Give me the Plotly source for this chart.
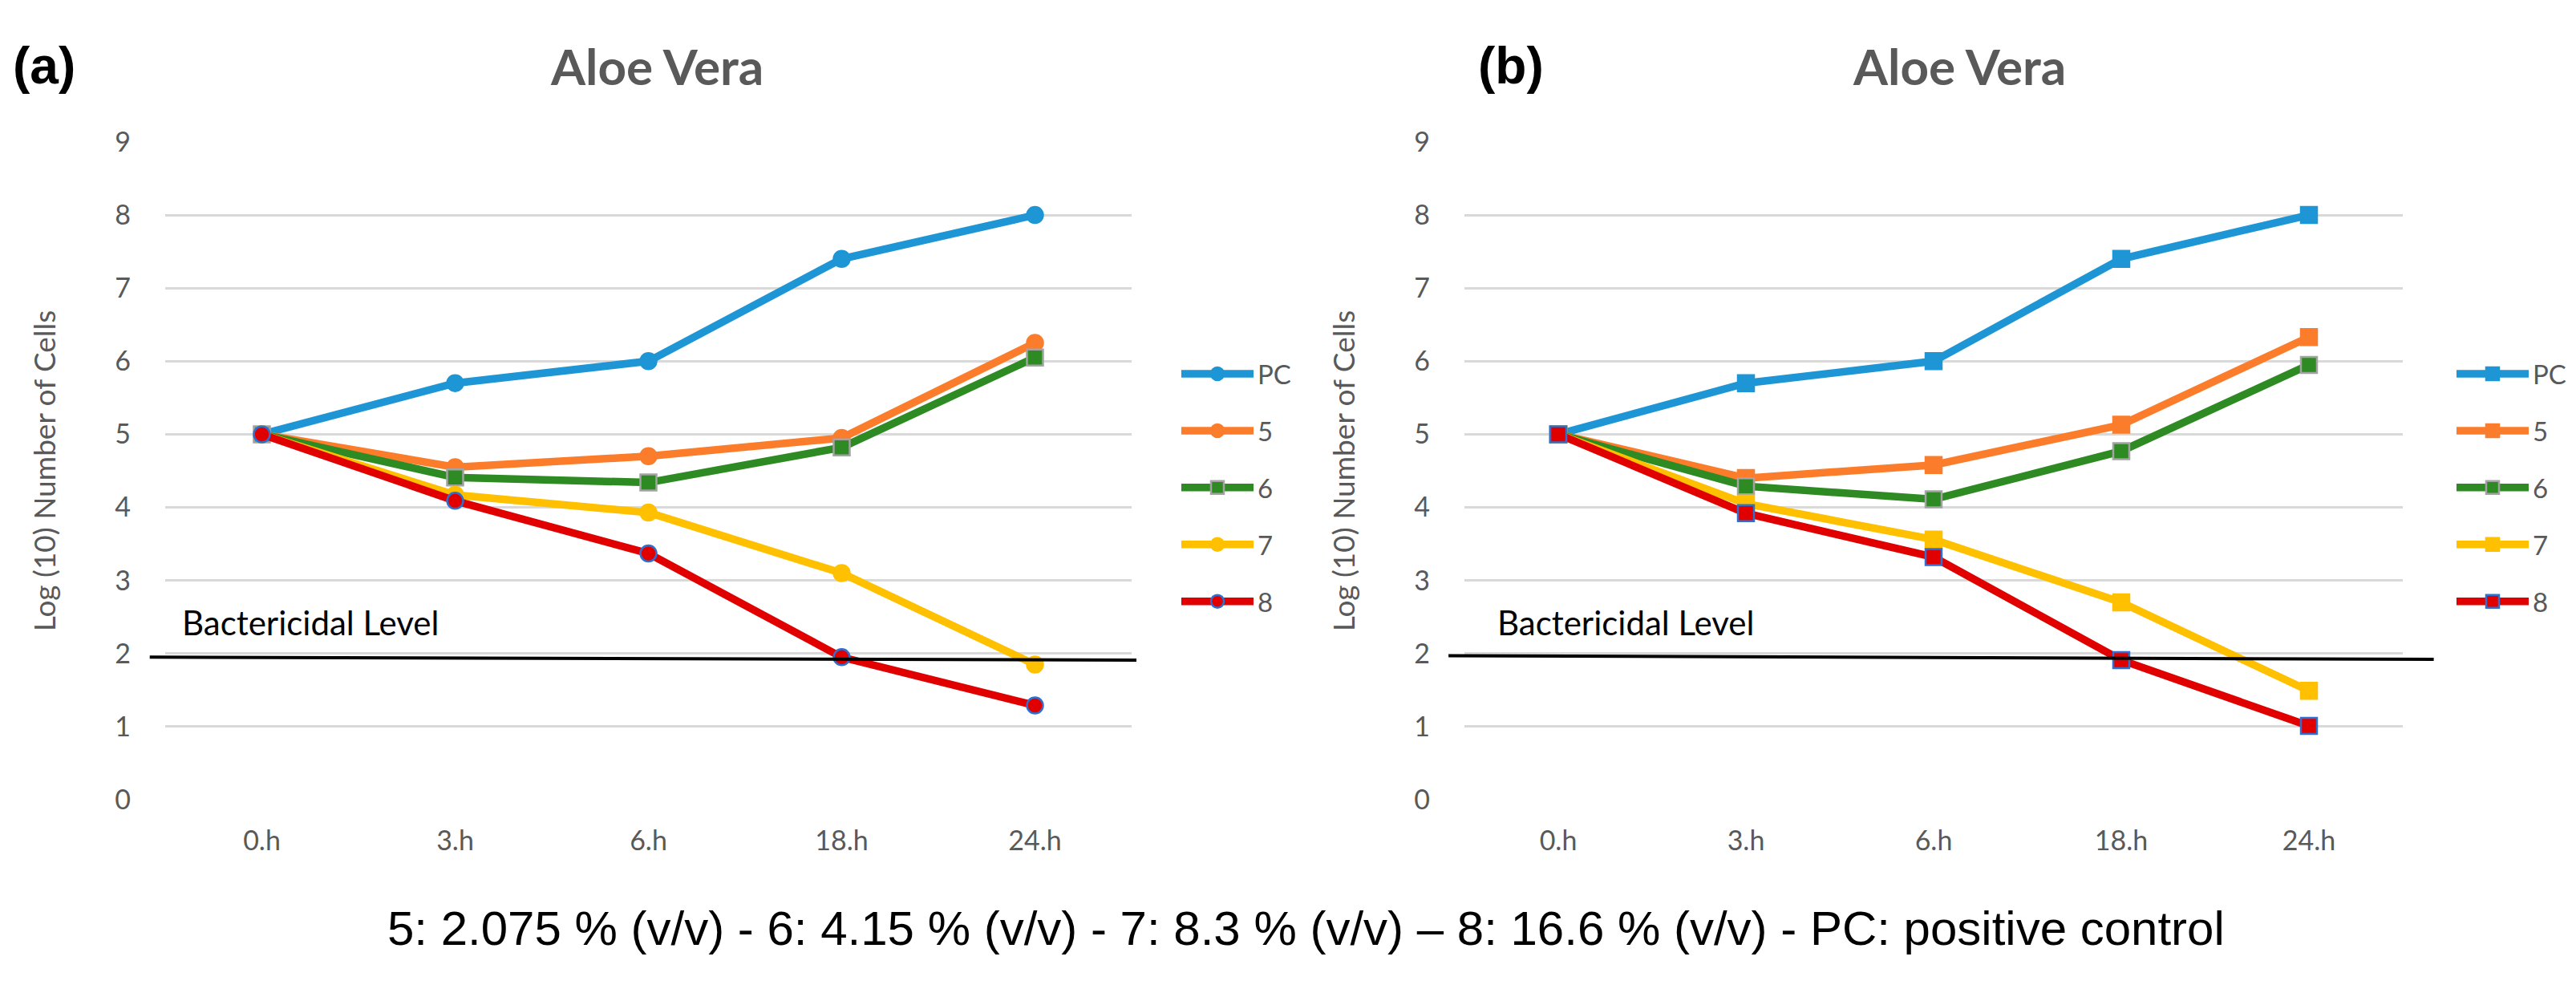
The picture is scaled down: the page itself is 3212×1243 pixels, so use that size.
import plotly.graph_objects as go

# time points and series (log10 number of cells)
times = ['0.h', '3.h', '6.h', '18.h', '24.h']
series_names = ['PC', '5', '6', '7', '8']

a_pc = [5.0, 5.7, 6.0, 7.4, 8.0]
a_5 = [5.0, 4.55, 4.7, 4.95, 6.25]
a_6 = [5.0, 4.41, 4.34, 4.82, 6.05]
a_7 = [5.0, 4.17, 3.93, 3.1, 1.85]
a_8 = [5.0, 4.09, 3.37, 1.95, 1.29]

b_pc = [5.0, 5.7, 6.0, 7.4, 8.0]
b_5 = [5.0, 4.4, 4.58, 5.13, 6.33]
b_6 = [5.0, 4.29, 4.11, 4.77, 5.95]
b_7 = [5.0, 4.05, 3.56, 2.7, 1.49]
b_8 = [5.0, 3.92, 3.32, 1.91, 1.01]

# bactericidal level line (left end, right end)
bact_a = [1.95, 1.91]
bact_b = [1.97, 1.92]

W, H = 3212, 1243

colors = ['#1E96D6', '#FB7D2C', '#2E8A22', '#FFC000', '#E00000']
edge_colors = ['#1E96D6', '#FB7D2C', '#A3A3A3', '#FFC000', '#2F6FD0']
symbols_a = ['circle', 'circle', 'square', 'circle', 'circle']
symbols_b = ['square'] * 5

grey_txt = '#595959'
font_fam = 'Lato, Open Sans, sans-serif'
tick_font = dict(family=font_fam, size=34, color=grey_txt)


def px(x):
    return x / W


def py(y):
    return 1 - y / H


fig = go.Figure()

panels = [
    ('x', 'y', 'legend', [a_pc, a_5, a_6, a_7, a_8], symbols_a),
    ('x2', 'y2', 'legend2', [b_pc, b_5, b_6, b_7, b_8], symbols_b),
]
for xa, ya, leg, vals, syms in panels:
    for i, name in enumerate(series_names):
        fig.add_trace(go.Scatter(
            x=times, y=vals[i], name=name, mode='lines+markers',
            xaxis=xa, yaxis=ya, legend=leg, legendgroup=leg + name,
            line=dict(color=colors[i], width=9.5),
            marker=dict(symbol=syms[i], size=20, color=colors[i],
                        line=dict(color=edge_colors[i], width=2.5)),
        ))

axis_common = dict(
    showline=False, zeroline=False, ticks='', showgrid=False,
    tickfont=tick_font,
)
y_common = dict(
    range=[0, 9], dtick=1, showgrid=True, gridcolor='#D9D9D9', gridwidth=3,
    zeroline=False, showline=False, ticks='', tickfont=tick_font,
    ticklabelstandoff=42,
    title=dict(text='Log (10) Number of Cells',
               font=dict(family=font_fam, size=37, color=grey_txt),
               standoff=62),
)

legend_common = dict(
    xanchor='left', yanchor='top',
    font=dict(family=font_fam, size=33, color=grey_txt),
    itemwidth=90, tracegroupgap=25, bgcolor='rgba(0,0,0,0)',
)

fig.update_layout(
    width=W, height=H,
    margin=dict(l=0, r=0, t=0, b=0),
    plot_bgcolor='white', paper_bgcolor='white',
    xaxis=dict(domain=[px(198), px(1403)], range=[-0.5, 4.5], anchor='y',
               ticklabelstandoff=28, **axis_common),
    yaxis=dict(domain=[py(1000), py(152)], anchor='x', **y_common),
    xaxis2=dict(domain=[px(1818), px(2988)], range=[-0.5, 4.5], anchor='y2',
                ticklabelstandoff=28, **axis_common),
    yaxis2=dict(domain=[py(1000), py(152)], anchor='x2', **y_common),
    legend=dict(x=px(1460), y=py(422), **legend_common),
    legend2=dict(x=px(3050), y=py(422), **legend_common),
)

# bactericidal level lines
for xref, yref, lv, x0, x1 in [('x domain', 'y', bact_a, -0.016, 1.005),
                               ('x2 domain', 'y2', bact_b, -0.017, 1.033)]:
    fig.add_shape(type='line', xref=xref, yref=yref, x0=x0, x1=x1,
                  y0=lv[0], y1=lv[1], line=dict(color='black', width=4),
                  layer='above')

annots = [
    dict(text='<b>(a)</b>', x=px(6), y=py(54), xanchor='left',
         font=dict(family='Liberation Sans, Arial', size=64, color='black')),
    dict(text='<b>(b)</b>', x=px(1833), y=py(54), xanchor='left',
         font=dict(family='Liberation Sans, Arial', size=64, color='black')),
    dict(text='<b>Aloe Vera</b>', x=px(811), y=py(54), xanchor='center',
         font=dict(family=font_fam, size=62, color=grey_txt)),
    dict(text='<b>Aloe Vera</b>', x=px(2435), y=py(54), xanchor='center',
         font=dict(family=font_fam, size=62, color=grey_txt)),
    dict(text='Bactericidal Level', x=px(217), y=py(771), xanchor='left',
         font=dict(family=font_fam, size=42, color='black')),
    dict(text='Bactericidal Level', x=px(1857), y=py(771), xanchor='left',
         font=dict(family=font_fam, size=42, color='black')),
    dict(text='5: 2.075 % (v/v) - 6: 4.15 % (v/v) - 7: 8.3 % (v/v) \u2013 8: 16.6 % (v/v) - PC: positive control',
         x=px(1620), y=py(1166), xanchor='center',
         font=dict(family='Liberation Sans, Arial', size=60, color='black')),
]
for a in annots:
    fig.add_annotation(xref='paper', yref='paper', yanchor='middle',
                       showarrow=False, **a)

fig.write_html("out.html")
